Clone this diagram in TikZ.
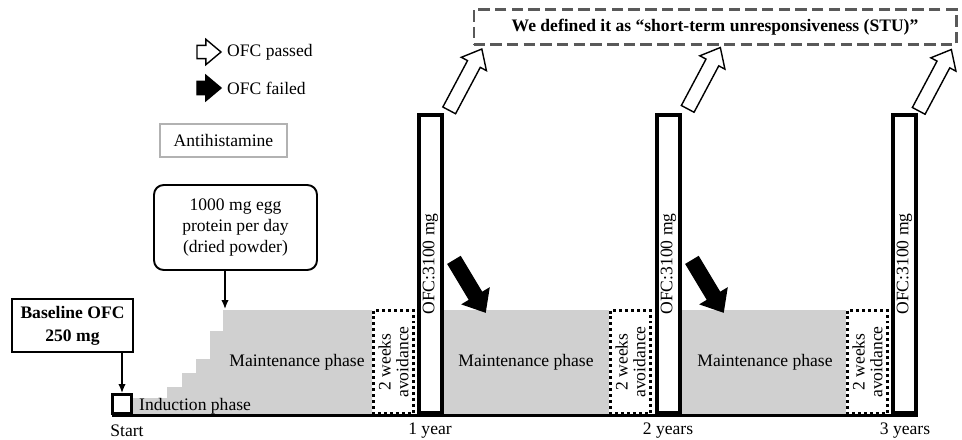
\documentclass[tikz,border=0pt]{standalone}
\usepackage{fontspec}
\setmainfont{Liberation Serif}
\usetikzlibrary{arrows.meta,positioning,shapes.arrows}
\definecolor{phasegray}{RGB}{208,208,208}
\tikzset{
  arrow/.style={-{Latex[length=1.8mm,width=1.5mm]}, line width=0.85pt},
  axisline/.style={line width=1.7pt},
  phase/.style={fill=phasegray},
  ofcbar/.style={draw=black, fill=white, line width=2.2pt, rotate=90, minimum width=5.96cm, minimum height=0.46cm, inner sep=0pt},
  avoidbox/.style={draw=black, fill=white, line width=1.7pt, dash pattern=on 1.7pt off 1.7pt, rotate=90, minimum width=2.06cm, minimum height=0.8cm, inner sep=0pt, align=center, font=\fontsize{10}{10}\selectfont},
  startbox/.style={draw=black, fill=white, line width=1.7pt, minimum size=0.38cm, inner sep=0pt},
  bigarrow/.style={single arrow, draw=black, line width=0.8pt, inner sep=0.13cm, single arrow head extend=0.14cm, single arrow tip angle=80},
  passarrow/.style={bigarrow, fill=white},
  failarrow/.style={bigarrow, fill=black, single arrow head extend=0.16cm},
  doseinfo/.style={draw=black, line width=1.1pt, rounded corners=5.5pt, minimum width=3.26cm, minimum height=1.7cm, align=center, inner sep=2pt},
  basebox/.style={draw=black, line width=1.1pt, minimum width=2.42cm, minimum height=1.06cm, align=center, font=\fontsize{10}{13}\selectfont\bfseries},
  drugbox/.style={draw=gray!60, line width=0.6pt, minimum width=2.54cm, minimum height=0.66cm},
  stubox/.style={draw=gray!70!black, line width=1.2pt, dash pattern=on 6.5pt off 3pt, minimum width=9.66cm, minimum height=0.7cm, font=\bfseries}
}
\begin{document}
\begin{tikzpicture}[x=0.02cm, y=-0.02cm, font=\fontsize{10}{12}\selectfont]
  \useasboundingbox (0,0) rectangle (962,439);
  % gray phases
  \fill[phase] (133,415) -- (133,398) -- (167,398) -- (167,387) -- (182,387) -- (182,373)
    -- (196,373) -- (196,359) -- (210,359) -- (210,331) -- (223,331) -- (223,310)
    -- (372,310) -- (372,415) -- cycle;
  \fill[phase] (444,310) rectangle (609,415);
  \fill[phase] (682,310) rectangle (846,415);
  \coordinate (stairtop) at (225,309);
  % legend
  \node[passarrow, minimum height=0.48cm, inner sep=0.12cm, single arrow head extend=0.12cm] (lgpass) at (205,52) {};
  \node[anchor=west] (lgpasstxt) at (221,52) {OFC passed};
  \node[failarrow, minimum height=0.48cm, inner sep=0.12cm, single arrow head extend=0.12cm] (lgfail) at (205,88) {};
  \node[anchor=west] (lgfailtxt) at (221,88) {OFC failed};
  \node[drugbox] (drug) at (223.5,140.5) {Antihistamine};
  % doses
  \node[doseinfo] (powder) at (235.5,227.5) {1000 mg egg\\protein per day\\(dried powder)};
  \node[basebox] (base) at (72.5,325.5) {Baseline OFC\\250 mg};
  \node[startbox] (sq) at (122,404) {};
  \draw[arrow] (sq.north |- base.south) -- (sq);
  \draw[arrow] (powder.south -| stairtop) -- (stairtop);
  \node[anchor=west] (induct) at (133,406) {Induction phase};
  % avoidance and challenges
  \node[avoidbox] (av1) at (393.5,362) {2 weeks\\avoidance};
  \node[avoidbox] (av2) at (630.5,362) {2 weeks\\avoidance};
  \node[avoidbox] (av3) at (867.5,362) {2 weeks\\avoidance};
  \node[ofcbar] (bar1) at (430.5,264) {OFC:3100 mg};
  \node[ofcbar] (bar2) at (668.5,264) {OFC:3100 mg};
  \node[ofcbar] (bar3) at (904.5,264) {OFC:3100 mg};
  \node (mp1) at (297,362) {Maintenance phase};
  \node (mp2) at (526,362) {Maintenance phase};
  \node (mp3) at (765,362) {Maintenance phase};
  \draw[axisline] (112,415) -- (918,415);
  % outcomes
  \node[passarrow, rotate=62, minimum height=1.39cm] (pass1) at (463.5,83.5) {};
  \node[passarrow, rotate=62, minimum height=1.39cm] (pass2) at (702,82) {};
  \node[passarrow, rotate=62, minimum height=1.39cm] (pass3) at (933,84) {};
  \node[failarrow, rotate=-59, minimum height=1.2cm] (fail1) at (467.5,282.5) {};
  \node[failarrow, rotate=-59, minimum height=1.2cm] (fail2) at (705.5,282.5) {};
  \node[stubox] (stu) at (715,27) {We defined it as “short-term unresponsiveness (STU)”};
  % time axis
  \node (start) at (127,431) {Start};
  \node (y1) at (430,431) {1 year};
  \node (y2) at (668,431) {2 years};
  \node (y3) at (905,431) {3 years};
\end{tikzpicture}
\end{document}
